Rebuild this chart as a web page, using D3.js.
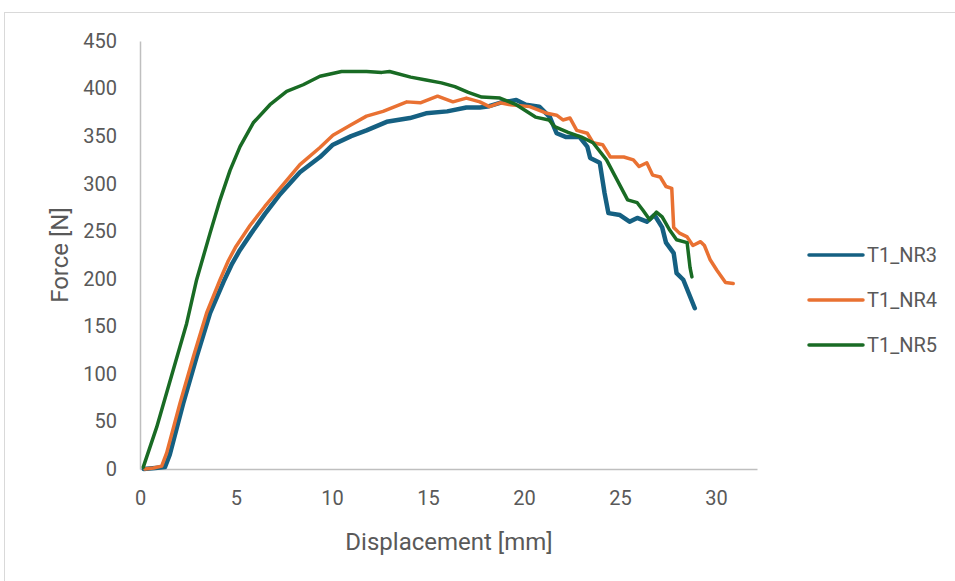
<!DOCTYPE html>
<html>
<head>
<meta charset="utf-8">
<script src="https://cdn.jsdelivr.net/npm/d3@7"></script>
<style>
  body { margin: 0; background: #fff; }
  text { font-family: Roboto, "Liberation Sans", sans-serif; fill: #595959; }
</style>
</head>
<body>
<script>
'use strict';

// displacement [mm] / force [N]
let nr3X = [0.2, 0.8, 1.3, 1.55, 2.25, 2.95, 3.65, 4.4, 4.8, 5.2, 5.8, 6.5, 7.3, 8.33, 9.375, 10.05, 11.0, 11.8, 12.85, 14.06, 14.9, 16.0, 17.0, 17.7, 18.1, 18.75, 19.6, 20.1, 20.8, 21.35, 21.7, 22.2, 22.9, 23.3, 23.45, 23.95, 24.2, 24.4, 25.0, 25.5, 25.9, 26.4, 26.8, 27.2, 27.4, 27.8, 27.95, 28.3, 28.9];
let nr3Y = [0, 1, 2, 15, 69, 118, 164, 199, 216, 230, 248, 268, 289, 312, 328, 341, 350, 356, 365, 369, 374, 376, 380, 380, 381, 385, 388, 383, 381, 370, 353, 349, 349, 339, 327, 322, 290, 269, 267, 260, 264, 260, 267, 254, 238, 227, 206, 199, 169];

let nr4X = [0.26, 0.7, 1.13, 1.39, 2.08, 2.78, 3.47, 4.17, 4.6, 5.0, 5.73, 6.5, 7.29, 8.33, 9.375, 10.05, 11.0, 11.8, 12.66, 13.9, 14.6, 15.5, 16.3, 17.0, 17.7, 18.2, 18.75, 19.3, 20.3, 21.2, 21.7, 22.03, 22.4, 22.75, 23.3, 23.6, 24.1, 24.5, 25.2, 25.7, 26.0, 26.4, 26.7, 27.1, 27.4, 27.7, 27.8, 28.1, 28.5, 28.8, 29.2, 29.4, 29.7, 30.05, 30.5, 30.9];
let nr4Y = [0, 1, 3, 17, 69, 118, 164, 199, 219, 234, 256, 276, 295, 320, 338, 351, 362, 371, 376, 386, 385, 392, 386, 390, 386, 381, 385, 383, 381, 374, 372, 367, 369, 356, 353, 343, 341, 328, 328, 325, 318, 322, 309, 307, 297, 295, 254, 248, 244, 235, 239, 235, 220, 209, 196, 195];

let nr5X = [0.17, 0.87, 1.73, 2.43, 2.95, 3.65, 4.17, 4.69, 5.21, 5.9, 6.77, 7.64, 8.5, 9.375, 10.5, 11.8, 12.6, 13.0, 14.1, 14.9, 15.7, 16.4, 17.1, 17.8, 18.75, 19.6, 20.6, 21.3, 21.6, 22.3, 23.0, 23.6, 24.3, 24.85, 25.4, 25.9, 26.2, 26.55, 26.9, 27.2, 27.6, 27.95, 28.5, 28.65, 28.75];
let nr5Y = [2, 44, 104, 153, 199, 248, 283, 314, 339, 364, 383, 397, 404, 413, 418, 418, 417, 418, 412, 409, 406, 402, 396, 391, 390, 383, 370, 367, 360, 354, 349, 343, 325, 304, 283, 280, 272, 262, 270, 265, 251, 241, 238, 212, 202];

let seriesNames = ['T1_NR3', 'T1_NR4', 'T1_NR5'];
let seriesColors = ['#156082', '#E97132', '#196B24'];
let xTicks = [0, 5, 10, 15, 20, 25, 30];
let yTicks = [0, 50, 100, 150, 200, 250, 300, 350, 400, 450];

let series = [[nr3X, nr3Y], [nr4X, nr4Y], [nr5X, nr5Y]].map(([xs, ys], i) => ({
    name: seriesNames[i],
    color: seriesColors[i],
    points: xs.map((x, j) => [x, ys[j]])
}));

let w = 955, h = 581;

let svg = d3.select('body')
    .append('svg')
    .attr('width', w)
    .attr('height', h);

// chart frame
svg.append('rect')
    .attr('x', 4.5)
    .attr('y', 12.5)
    .attr('width', 960)
    .attr('height', 600)
    .attr('fill', 'none')
    .attr('stroke', '#d9d9d9');

let x = d3.scaleLinear().domain([0, 32.14]).range([140, 757]);
let y = d3.scaleLinear().domain([0, 450]).range([469, 41]);

// axes
let xAxis = svg.append('g')
    .attr('transform', 'translate(0,469)')
    .call(d3.axisBottom(x).tickValues(xTicks).tickSize(0).tickPadding(22));
xAxis.select('.domain').attr('stroke', '#bfbfbf').attr('stroke-width', 1.5);

let yAxis = svg.append('g')
    .attr('transform', 'translate(140,0)')
    .call(d3.axisLeft(y).tickValues(yTicks).tickSize(0).tickPadding(23));
yAxis.select('.domain').attr('stroke', '#bfbfbf').attr('stroke-width', 1.5);

svg.selectAll('.tick text')
    .attr('font-family', 'Roboto, sans-serif')
    .attr('font-size', '20px')
    .attr('fill', '#595959');

// axis titles
svg.append('text')
    .attr('x', 449)
    .attr('y', 550)
    .attr('text-anchor', 'middle')
    .attr('font-size', '24px')
    .text('Displacement [mm]');

svg.append('text')
    .attr('transform', 'translate(68,255) rotate(-90)')
    .attr('text-anchor', 'middle')
    .attr('font-size', '24px')
    .text('Force [N]');

// lines
let line = d3.line()
    .x(d => x(d[0]))
    .y(d => y(d[1]));

svg.selectAll('path.series')
    .data(series)
    .enter()
    .append('path')
    .attr('class', 'series')
    .attr('d', d => line(d.points))
    .attr('fill', 'none')
    .attr('stroke', d => d.color)
    .attr('stroke-width', (d, i) => i === 0 ? 4.5 : 3.5)
    .attr('stroke-linejoin', 'round')
    .attr('stroke-linecap', 'round');

// legend
let legend = svg.selectAll('g.legend')
    .data(series)
    .enter()
    .append('g')
    .attr('class', 'legend')
    .attr('transform', (d, i) => 'translate(809,' + (255 + i * 45) + ')');

legend.append('line')
    .attr('x1', 0)
    .attr('x2', 54)
    .attr('stroke', d => d.color)
    .attr('stroke-width', 3.5)
    .attr('stroke-linecap', 'round');

legend.append('text')
    .attr('x', 58)
    .attr('y', 7)
    .attr('font-size', '20px')
    .text(d => d.name);
</script>
</body>
</html>
